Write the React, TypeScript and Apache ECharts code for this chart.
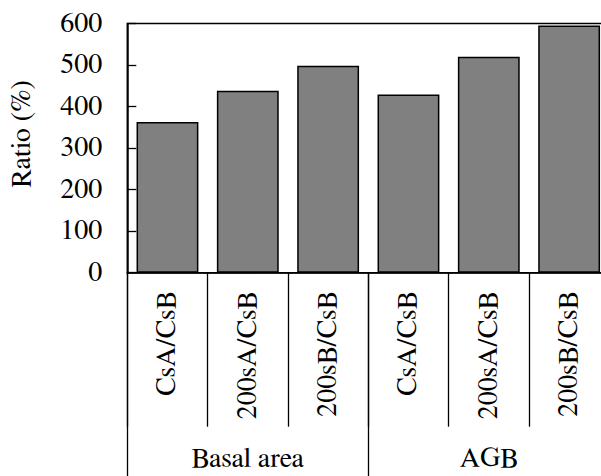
import React, { useEffect, useRef } from "react";
import * as echarts from "echarts";

const categories = ["CsA/CsB", "200sA/CsB", "200sB/CsB", "CsA/CsB", "200sA/CsB", "200sB/CsB"];
const groups = ["Basal area", "AGB"];
const ratioValues = [363, 438, 498, 429, 520, 595];
const yAxisName = "Ratio (%)";

const FONT = "FreeSerif";

export default function App() {
  const ref = useRef<HTMLDivElement>(null);
  useEffect(() => {
    if (!ref.current) return;
    const chart = echarts.init(ref.current, undefined, { renderer: "svg" });
    chart.setOption({
      animation: false,
      backgroundColor: "#ffffff",
      grid: {
        left: 127.3,
        top: 23.5,
        bottom: 203.3,
        right: 0.7,
        show: true,
        borderColor: "#000",
        borderWidth: 1.5,
        backgroundColor: "transparent",
      },
      xAxis: [
        {
          type: "category",
          data: categories,
          position: "bottom",
          axisLine: { show: true, lineStyle: { color: "#000", width: 1.5 } },
          axisTick: { show: true, interval: 0, length: 154, lineStyle: { color: "#000", width: 1.3 } },
          axisLabel: {
            interval: 0,
            rotate: 90,
            margin: 19,
            fontSize: 28,
            fontFamily: FONT,
            color: "#000",
          },
          splitLine: { show: false },
        },
        {
          type: "category",
          data: groups,
          position: "bottom",
          axisLine: { show: false },
          axisTick: { show: true, interval: 0, length: 210, lineStyle: { color: "#000", width: 1.3 } },
          axisLabel: {
            interval: 0,
            margin: 172,
            fontSize: 28,
            lineHeight: 28,
            fontFamily: FONT,
            color: "#000",
          },
          splitLine: { show: false },
        },
      ],
      yAxis: {
        type: "value",
        min: 0,
        max: 600,
        interval: 100,
        axisLine: { show: true, lineStyle: { color: "#000", width: 1.5 } },
        axisTick: { show: true, inside: true, length: 9, lineStyle: { color: "#000", width: 1.3 } },
        axisLabel: { margin: 25, fontSize: 28, fontFamily: FONT, color: "#000" },
        splitLine: { show: false },
      },
      graphic: [
        {
          type: "text",
          x: 22,
          y: 134,
          rotation: Math.PI / 2,
          style: {
            text: yAxisName,
            fontSize: 28,
            fontFamily: FONT,
            fill: "#000",
            textAlign: "center",
            textVerticalAlign: "middle",
          },
        },
      ],
      series: [
        {
          type: "bar",
          xAxisIndex: 0,
          data: ratioValues,
          barCategoryGap: "23%",
          itemStyle: { color: "#808080", borderColor: "#000", borderWidth: 1.5 },
        },
      ],
    });
    return () => chart.dispose();
  }, []);
  return (
    <div style={{ position: "absolute", left: 0, top: 0, width: 601, height: 476, overflow: "hidden" }}>
      <div ref={ref} style={{ width: 610, height: 476 }} />
    </div>
  );
}
